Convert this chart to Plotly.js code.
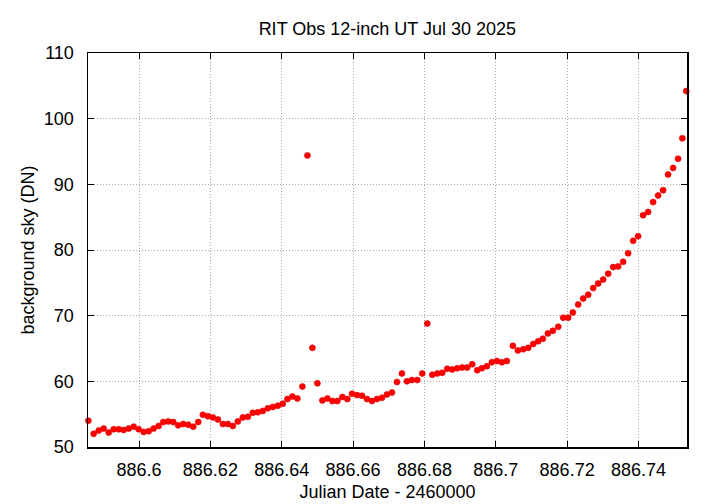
<!DOCTYPE html>
<html>
<head>
<meta charset="utf-8">
<script src="https://cdn.plot.ly/plotly-3.0.1.min.js"></script>
<style>html,body{margin:0;padding:0;background:#fff;}#chart{width:720px;height:504px;}</style>
</head>
<body>
<div id="chart"></div>
<script>
// Julian Date - 2460000
var jd = [
  886.5858, 886.5873, 886.5887, 886.5901, 886.5915, 886.5929, 886.5943, 886.5957, 886.5971, 886.5985,
  886.5999, 886.6013, 886.6027, 886.6041, 886.6055, 886.6068, 886.6082, 886.6096, 886.6110, 886.6124,
  886.6138, 886.6152, 886.6166, 886.6179, 886.6193, 886.6207, 886.6221, 886.6235, 886.6249, 886.6263,
  886.6277, 886.6291, 886.6305, 886.6319, 886.6333, 886.6347, 886.6361, 886.6375, 886.6389, 886.6403,
  886.6416, 886.6430, 886.6444, 886.6458, 886.6472, 886.6486, 886.6500, 886.6514, 886.6528, 886.6542,
  886.6556, 886.6570, 886.6584, 886.6597, 886.6611, 886.6625, 886.6639, 886.6653, 886.6667, 886.6681,
  886.6695, 886.6709, 886.6723, 886.6737, 886.6751, 886.6765, 886.6780, 886.6794, 886.6808, 886.6822,
  886.6836, 886.6850, 886.6864, 886.6878, 886.6892, 886.6906, 886.6920, 886.6934, 886.6948, 886.6961,
  886.6975, 886.6989, 886.7003, 886.7017, 886.7031, 886.7048, 886.7062, 886.7077, 886.7091, 886.7105,
  886.7119, 886.7132, 886.7146, 886.7160, 886.7175, 886.7189, 886.7203, 886.7216, 886.7231, 886.7245,
  886.7259, 886.7273, 886.7287, 886.7301, 886.7315, 886.7329, 886.7343, 886.7357, 886.7371, 886.7385,
  886.7399, 886.7413, 886.7427, 886.7441, 886.7455, 886.7469, 886.7483, 886.7497, 886.7511, 886.7523,
  886.7534
];
// background sky (DN)
var sky = [
  54.0, 52.0, 52.5, 52.8, 52.2, 52.7, 52.7, 52.6, 52.8, 53.1,
  52.7, 52.3, 52.4, 52.8, 53.2, 53.8, 53.9, 53.8, 53.3, 53.5,
  53.4, 53.1, 53.8, 54.9, 54.7, 54.5, 54.2, 53.5, 53.5, 53.2,
  53.9, 54.5, 54.6, 55.2, 55.3, 55.5, 55.9, 56.1, 56.3, 56.6,
  57.3, 57.7, 57.4, 59.2, 94.4, 65.1, 59.7, 57.1, 57.4, 57.0,
  57.0, 57.6, 57.3, 58.1, 57.9, 57.8, 57.3, 57.0, 57.3, 57.5,
  58.0, 58.3, 59.9, 61.2, 60.0, 60.2, 60.2, 61.2, 68.8, 61.0,
  61.2, 61.3, 61.9, 61.8, 62.0, 62.1, 62.1, 62.6, 61.7, 62.0,
  62.3, 62.9, 63.1, 62.9, 63.1, 65.4, 64.7, 64.9, 65.1, 65.7,
  66.1, 66.5, 67.3, 67.7, 68.3, 69.7, 69.7, 70.5, 71.7, 72.6,
  73.2, 74.2, 74.9, 75.5, 76.4, 77.4, 77.5, 78.2, 79.5, 81.4,
  82.1, 85.3, 85.8, 87.3, 88.3, 89.1, 91.5, 92.5, 93.9, 97.0,
  104.2
];
var xTickVals = [886.6, 886.62, 886.64, 886.66, 886.68, 886.7, 886.72, 886.74];
var xTickText = ["886.6", "886.62", "886.64", "886.66", "886.68", "886.7", "886.72", "886.74"];
var yTickVals = [50, 60, 70, 80, 90, 100, 110];
var yTickText = ["50", "60", "70", "80", "90", "100", "110"];

var FONT = "Liberation Sans, Arial, Helvetica, sans-serif";

var trace = {
  x: jd, y: sky, type: "scatter", mode: "markers",
  marker: {color: "#ff0000", size: 6, line: {width: 0.6, color: "#e00000"}},
  cliponaxis: false, hoverinfo: "none"
};

var layout = {
  width: 720, height: 504,
  margin: {l: 88, r: 33, t: 53, b: 57},
  paper_bgcolor: "#ffffff", plot_bgcolor: "#ffffff",
  showlegend: false,
  font: {family: FONT, size: 18, color: "#000"},
  title: {text: "RIT Obs 12-inch UT Jul 30 2025", font: {family: FONT, size: 18, color: "#000"},
          x: 0.538, xanchor: "center", y: 0.944, yanchor: "middle"},
  xaxis: {
    range: [886.5857, 886.7536], autorange: false,
    tickmode: "array", tickvals: xTickVals, ticktext: xTickText,
    ticks: "inside", ticklen: 6, tickwidth: 1, tickcolor: "#000",
    showline: true, linecolor: "#000", linewidth: 1.5, mirror: "ticks",
    showgrid: true, gridcolor: "#a8a8a8", griddash: "1px,2px", gridwidth: 1,
    zeroline: false, ticklabelstandoff: 6,
    tickfont: {family: FONT, size: 18, color: "#000"},
    title: {text: "Julian Date - 2460000", font: {family: FONT, size: 18, color: "#000"}, standoff: 6}
  },
  yaxis: {
    range: [50, 110], autorange: false,
    tickmode: "array", tickvals: yTickVals, ticktext: yTickText,
    ticks: "inside", ticklen: 6, tickwidth: 1, tickcolor: "#000",
    showline: true, linecolor: "#000", linewidth: 1.5, mirror: "ticks",
    showgrid: true, gridcolor: "#a8a8a8", griddash: "1px,2px", gridwidth: 1,
    zeroline: false, ticklabelstandoff: 9,
    tickfont: {family: FONT, size: 18, color: "#000"},
    title: {text: "background sky (DN)", font: {family: FONT, size: 18, color: "#000"}, standoff: 4}
  }
};

Plotly.newPlot("chart", [trace], layout, {staticPlot: true, displayModeBar: false});
</script>
</body>
</html>
